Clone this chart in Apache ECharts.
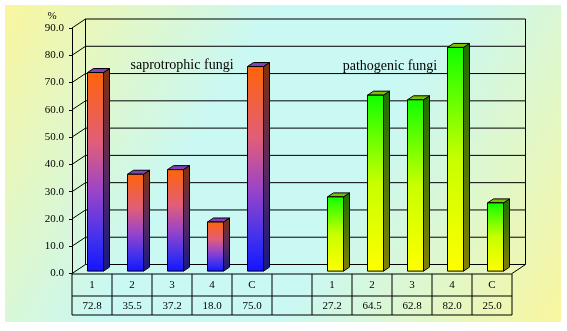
<!DOCTYPE html>
<html>
<head>
<meta charset="utf-8">
<script src="https://cdn.jsdelivr.net/npm/echarts@6/dist/echarts.min.js"></script>
<style>
  html, body { margin: 0; padding: 0; background: #ffffff; }
  #chart { width: 567px; height: 331px; }
</style>
</head>
<body>
<div id="chart"></div>
<script>
// Table columns: five saprotrophic isolates, an empty spacer, five pathogenic isolates
const categories = ['1', '2', '3', '4', 'C', '', '1', '2', '3', '4', 'C'];
const saprotrophic = [72.8, 35.5, 37.2, 18.0, 75.0];
const pathogenic = [27.2, 64.5, 62.8, 82.0, 25.0];
const groupTitles = ['saprotrophic fungi', 'pathogenic fungi'];
const yMin = 0, yMax = 90, yStep = 10;

const SERIF = '"Liberation Serif", "DejaVu Serif", serif';

// depth of the back wall and of each bar (pseudo-3D projection)
const WALL_DX = 13.5, WALL_DY = -9;
const BAR_DX = 6, BAR_DY = -4, BAR_W = 16, BAR_LIFT = 2.4;

// pair every value with its column index (saprotrophic 0-4, pathogenic 6-10)
const sapData = saprotrophic.map((v, i) => [i, v]);
const patData = pathogenic.map((v, i) => [i + 6, v]);
const tableValues = categories.map((c, i) =>
  i < 5 ? saprotrophic[i] : (i > 5 ? pathogenic[i - 6] : null));

const lineStyle = { stroke: '#000', lineWidth: 1, fill: null };

function line(x1, y1, x2, y2) {
  return { type: 'line', shape: { x1, y1, x2, y2 }, style: lineStyle, silent: true };
}

// back wall, side wall diagonals and floor edges
function renderWall(params, api) {
  const cs = params.coordSys;
  const x0 = cs.x, x1 = cs.x + cs.width;
  const children = [];
  for (let v = yMin; v <= yMax + 1e-9; v += yStep) {
    const y = api.coord([0, v])[1];
    children.push(line(x0, y, x0 + WALL_DX, y + WALL_DY));
    children.push(line(x0 + WALL_DX, y + WALL_DY, x1 + WALL_DX, y + WALL_DY));
  }
  const yTop = api.coord([0, yMax])[1];
  const yBot = api.coord([0, yMin])[1];
  children.push(line(x0 + WALL_DX, yTop + WALL_DY, x0 + WALL_DX, yBot + WALL_DY));
  children.push(line(x1 + WALL_DX, yTop + WALL_DY, x1 + WALL_DX, yBot + WALL_DY));
  children.push(line(x1, yBot, x1 + WALL_DX, yBot + WALL_DY));
  return { type: 'group', children };
}

// data table under the plot: category row and value row
function renderTable(params, api) {
  const cs = params.coordSys;
  const x0 = cs.x, x1 = cs.x + cs.width;
  const yTop = api.coord([0, yMin])[1] + 0.5;
  const yMid = yTop + 22, yBot = yTop + 41;
  const colW = cs.width / categories.length;
  const children = [
    line(x0, yTop, x1, yTop),
    line(x0, yMid, x1, yMid),
    line(x0, yBot, x1, yBot)
  ];
  for (let k = 0; k <= categories.length; k++) {
    const x = x0 + k * colW;
    children.push(line(x, yTop, x, yBot));
  }
  categories.forEach((c, i) => {
    const cx = x0 + (i + 0.5) * colW;
    children.push({
      type: 'text', silent: true,
      style: { text: c, x: cx, y: (yTop + yMid) / 2, align: 'center', verticalAlign: 'middle',
               font: '11px ' + SERIF, fill: '#000' }
    });
    if (tableValues[i] !== null) {
      children.push({
        type: 'text', silent: true,
        style: { text: tableValues[i].toFixed(1), x: cx, y: (yMid + yBot) / 2 + 0.5,
                 align: 'center', verticalAlign: 'middle', font: '11px ' + SERIF, fill: '#000' }
      });
    }
  });
  return { type: 'group', children };
}

function grad(stops) {
  return { type: 'linear', x: 0, y: 0, x2: 0, y2: 1,
           colorStops: stops.map(s => ({ offset: s[0], color: s[1] })) };
}

const sapColors = {
  front: grad([[0, '#ff6408'], [0.35, '#e25e78'], [0.6, '#9a44c8'], [0.85, '#3c30ee'], [1, '#1414ff']]),
  side: grad([[0, '#84300c'], [0.5, '#5a2a60'], [1, '#181880']]),
  top: '#8040c0'
};
const patColors = {
  front: grad([[0, '#10ff00'], [0.5, '#c8ff00'], [1, '#ffff00']]),
  side: grad([[0, '#1c7000'], [1, '#848000']]),
  top: '#7cc000'
};

function makeBarRenderer(colors) {
  return function (params, api) {
    const idx = api.value(0), val = api.value(1);
    const base = api.coord([idx, 0]);
    const top = api.coord([idx, val]);
    const xL = base[0] - 4.5, xR = xL + BAR_W;
    const yB = base[1] - BAR_LIFT, yT = top[1] - BAR_LIFT;
    const stroke = { stroke: '#000', lineWidth: 1 };
    return {
      type: 'group',
      children: [
        { type: 'polygon',
          shape: { points: [[xR, yT], [xR + BAR_DX, yT + BAR_DY], [xR + BAR_DX, yB + BAR_DY], [xR, yB]] },
          style: Object.assign({ fill: colors.side }, stroke) },
        { type: 'polygon',
          shape: { points: [[xL, yT], [xL + BAR_DX, yT + BAR_DY], [xR + BAR_DX, yT + BAR_DY], [xR, yT]] },
          style: Object.assign({ fill: colors.top }, stroke) },
        { type: 'rect',
          shape: { x: xL, y: yT, width: BAR_W, height: yB - yT },
          style: Object.assign({ fill: colors.front }, stroke) }
      ]
    };
  };
}

const chart = echarts.init(document.getElementById('chart'), null, { renderer: 'canvas' });

chart.setOption({
  animation: false,
  backgroundColor: '#ffffff',
  grid: { left: 72, right: 55, top: 28, bottom: 57.5 },
  xAxis: {
    type: 'category',
    data: categories,
    axisLine: { show: false },
    axisTick: { show: false },
    axisLabel: { show: false },
    splitLine: { show: false }
  },
  yAxis: {
    type: 'value',
    min: yMin, max: yMax, interval: yStep,
    axisLine: { show: true, lineStyle: { color: '#000', width: 1 } },
    axisTick: { show: true, length: 3, lineStyle: { color: '#000' } },
    axisLabel: { margin: 8, formatter: v => v.toFixed(1), fontFamily: SERIF, fontSize: 11, color: '#000' },
    splitLine: { show: false }
  },
  graphic: [
    {
      type: 'rect', z: -10, silent: true,
      shape: { x: 5, y: 5, width: 556, height: 317 },
      style: {
        fill: { type: 'linear', x: 0, y: 0, x2: 1, y2: 1, colorStops: [
          { offset: 0, color: '#f9f69e' },
          { offset: 0.36, color: '#caf8f2' },
          { offset: 0.62, color: '#caf8f2' },
          { offset: 1, color: '#f9f69e' }
        ] }
      }
    },
    { type: 'text', silent: true, x: 52, y: 16,
      style: { text: '%', font: '11px ' + SERIF, fill: '#000', align: 'center', verticalAlign: 'middle' } },
    { type: 'text', silent: true, x: 182, y: 65,
      style: { text: groupTitles[0], font: '14px ' + SERIF, fill: '#000', align: 'center', verticalAlign: 'middle' } },
    { type: 'text', silent: true, x: 390, y: 66.5,
      style: { text: groupTitles[1], font: '14px ' + SERIF, fill: '#000', align: 'center', verticalAlign: 'middle' } }
  ],
  series: [
    { type: 'custom', name: 'wall', z: 1, silent: true, data: [[0, 0]], renderItem: renderWall },
    { type: 'custom', name: 'table', z: 1, silent: true, data: [[0, 0]], renderItem: renderTable },
    { type: 'custom', name: groupTitles[0], z: 3, data: sapData, renderItem: makeBarRenderer(sapColors) },
    { type: 'custom', name: groupTitles[1], z: 3, data: patData, renderItem: makeBarRenderer(patColors) }
  ]
});
</script>
</body>
</html>
